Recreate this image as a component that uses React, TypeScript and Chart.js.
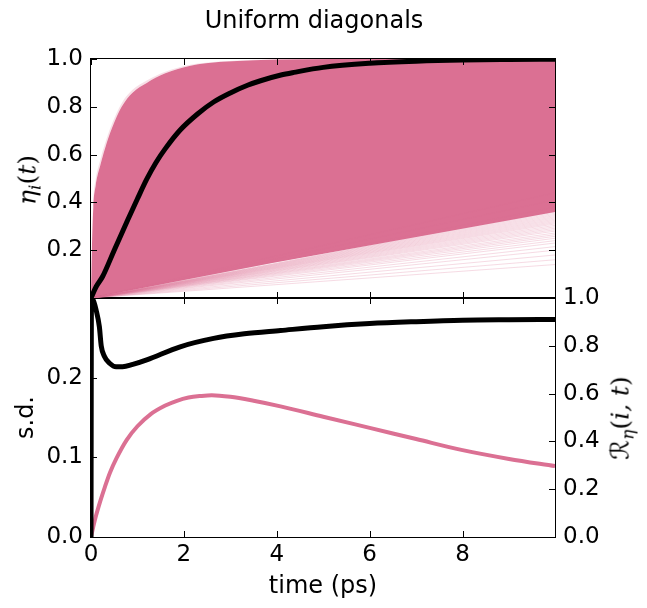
import React, { useEffect, useRef } from 'react';
import { Chart, registerables } from 'chart.js';

Chart.register(...registerables);

// ---- layout constants (pixels) ----
const W = 647;
const H = 608;
const PLOT_LEFT = 91;
const PLOT_RIGHT = 555;
const TOP_Y = 59;
const MID_Y = 298;
const BOT_Y = 537;
const X_MAX = 9.99;

const PINK = 'rgb(219,112,147)';
const PINK_FAINT = 'rgba(219,112,147,0.25)';
const PINK_EDGE = 'rgba(219,112,147,0.22)';

// ---- tick labels ----
const xTicks = [0, 2, 4, 6, 8];
const etaTicks = [0.2, 0.4, 0.6, 0.8, 1.0];
const sdTicks = [0, 0.1, 0.2];
const rTicks = [0, 0.2, 0.4, 0.6, 0.8, 1.0];

// ---- top panel: ensemble of eta_i(t) ----
const envTime = [0, 0.02, 0.05, 0.1, 0.2, 0.3, 0.45, 0.66, 0.9, 1.2, 1.6, 2.14, 2.8, 3.5, 4.5, 6, 9.99];
const envUpper = [0, 0.2, 0.38, 0.47, 0.555, 0.625, 0.71, 0.8, 0.86, 0.9, 0.94, 0.972, 0.988, 0.995, 0.999, 1.0, 1.0];
const envFaintUpper = [0, 0.24, 0.41, 0.495, 0.578, 0.645, 0.728, 0.815, 0.872, 0.91, 0.947, 0.976, 0.99, 0.997, 1.0, 1.0, 1.0];
const lowerTime = [0, 3.87, 9.99];
const envLower = [0, 0.145, 0.36];
// values at t = 9.99 of the sparse slow trajectories below the dense band
const faintEnds = [
  0.14, 0.16, 0.18, 0.2, 0.215, 0.23, 0.24, 0.25, 0.258, 0.265, 0.272, 0.28, 0.286, 0.292, 0.298,
  0.304, 0.31, 0.315, 0.32, 0.325, 0.33, 0.335, 0.34, 0.345, 0.35, 0.355, 0.36, 0.365, 0.38, 0.41, 0.44,
];

const meanTime = [0, 0.11, 0.25, 0.5, 0.79, 1.0, 1.2, 1.4, 1.6, 1.92, 2.3, 2.64, 3.0, 3.37, 3.65, 4.09, 4.37, 5.0, 6.0, 7.0, 8.0, 9.0, 9.99];
const etaMean = [0, 0.047, 0.09, 0.2, 0.326, 0.415, 0.497, 0.567, 0.625, 0.703, 0.771, 0.82, 0.858, 0.89, 0.909, 0.933, 0.944, 0.965, 0.982, 0.991, 0.996, 0.998, 0.999];

// ---- bottom panel ----
const sdTime = [0, 0.05, 0.1, 0.2, 0.3, 0.41, 0.55, 0.77, 1.0, 1.28, 1.6, 1.85, 2.1, 2.36, 2.6, 3.0, 3.5, 4.08, 5.0, 6.0, 7.0, 8.0, 9.0, 9.99];
const sdValues = [0, 0.013, 0.025, 0.045, 0.063, 0.081, 0.099, 0.122, 0.139, 0.154, 0.165, 0.171, 0.175, 0.177, 0.178, 0.176, 0.171, 0.164, 0.151, 0.137, 0.123, 0.109, 0.098, 0.089];

const rTime = [0, 0.01, 0.05, 0.11, 0.18, 0.22, 0.29, 0.4, 0.54, 0.68, 0.9, 1.2, 1.92, 2.64, 3.3, 4.08, 5.0, 6.0, 7.0, 8.0, 9.0, 9.99];
const rValues = [0, 1.0, 0.99, 0.95, 0.88, 0.8, 0.755, 0.727, 0.712, 0.712, 0.722, 0.741, 0.796, 0.831, 0.85, 0.864, 0.88, 0.893, 0.901, 0.907, 0.909, 0.91];

const FONT = { family: 'DejaVu Sans', size: 23 };

const pts = (xs: number[], ys: number[]) => xs.map((x, i) => ({ x, y: ys[i] }));

function makeFrame(leftId: string, leftTicks: number[], rightId: string, rightTicks: number[]) {
  return {
    id: 'frameTicks',
    afterDraw(chart: any) {
      const { ctx, chartArea: a, scales } = chart;
      const L = 6;
      ctx.save();
      ctx.strokeStyle = '#000';
      ctx.lineWidth = 1;
      ctx.beginPath();
      for (const v of xTicks) {
        const p = Math.round(scales.x.getPixelForValue(v)) + 0.5;
        ctx.moveTo(p, a.bottom);
        ctx.lineTo(p, a.bottom - L);
        ctx.moveTo(p, a.top);
        ctx.lineTo(p, a.top + L);
      }
      for (const v of leftTicks) {
        const p = Math.round(scales[leftId].getPixelForValue(v)) + 0.5;
        ctx.moveTo(a.left, p);
        ctx.lineTo(a.left + L, p);
      }
      for (const v of rightTicks) {
        const p = Math.round(scales[rightId].getPixelForValue(v)) + 0.5;
        ctx.moveTo(a.right, p);
        ctx.lineTo(a.right - L, p);
      }
      ctx.stroke();
      ctx.strokeRect(a.left - 0.5, a.top - 0.5, a.right - a.left + 1, a.bottom - a.top + 1);
      ctx.restore();
    },
  };
}

const setTicks = (vals: number[]) => (s: any) => {
  s.ticks = vals.map((v) => ({ value: v }));
};

export default function App() {
  const topRef = useRef<HTMLCanvasElement>(null);
  const botRef = useRef<HTMLCanvasElement>(null);

  useEffect(() => {
    document.body.style.margin = '0';
    Chart.defaults.font.family = 'DejaVu Sans';

    const faintSets = faintEnds.map((e) => ({
      data: [{ x: 0, y: 0 }, { x: X_MAX, y: e }],
      borderColor: PINK_FAINT,
      borderWidth: 1,
      pointRadius: 0,
      fill: false,
      order: 4,
    }));

    const top = new Chart(topRef.current!, {
      type: 'line',
      data: {
        datasets: [
          {
            data: pts(lowerTime, envLower),
            borderWidth: 0,
            borderColor: 'rgba(0,0,0,0)',
            pointRadius: 0,
            fill: false,
            order: 6,
          },
          {
            data: pts(envTime, envUpper),
            borderWidth: 0,
            borderColor: 'rgba(0,0,0,0)',
            backgroundColor: PINK,
            pointRadius: 0,
            fill: 0,
            cubicInterpolationMode: 'monotone',
            order: 5,
          },
          {
            data: pts(envTime, envFaintUpper),
            borderWidth: 0,
            borderColor: 'rgba(0,0,0,0)',
            backgroundColor: PINK_EDGE,
            pointRadius: 0,
            fill: 1,
            cubicInterpolationMode: 'monotone',
            order: 7,
          },
          ...faintSets,
          {
            data: pts(meanTime, etaMean),
            borderColor: '#000',
            borderWidth: 5,
            pointRadius: 0,
            fill: false,
            cubicInterpolationMode: 'monotone',
            borderCapStyle: 'round',
            borderJoinStyle: 'round',
            order: 0,
          },
        ] as any,
      },
      options: {
        animation: false,
        responsive: false,
        devicePixelRatio: 1,
        events: [],
        layout: { padding: { top: TOP_Y, right: W - PLOT_RIGHT, left: 0, bottom: 0 } },
        plugins: { legend: { display: false }, tooltip: { enabled: false } },
        scales: {
          x: {
            type: 'linear',
            min: 0,
            max: X_MAX,
            afterBuildTicks: setTicks(xTicks),
            ticks: { display: false, autoSkip: false },
            grid: { display: false, drawTicks: false },
            border: { display: false },
            afterFit: (s: any) => {
              s.height = H - MID_Y;
            },
          },
          y: {
            type: 'linear',
            position: 'left',
            min: 0,
            max: 1,
            afterBuildTicks: setTicks(etaTicks),
            ticks: {
              font: FONT,
              color: '#000',
              padding: 8,
              autoSkip: false,
              callback: (v: any) => Number(v).toFixed(1),
            },
            grid: { display: false, drawTicks: false },
            border: { display: false },
            afterFit: (s: any) => {
              s.width = PLOT_LEFT;
            },
          },
        },
      } as any,
      plugins: [makeFrame('y', etaTicks, 'y', etaTicks)],
    });

    const bot = new Chart(botRef.current!, {
      type: 'line',
      data: {
        datasets: [
          {
            data: pts(rTime, rValues),
            yAxisID: 'yR',
            borderColor: '#000',
            borderWidth: 5,
            pointRadius: 0,
            fill: false,
            cubicInterpolationMode: 'monotone',
            borderJoinStyle: 'round',
            order: 0,
          },
          {
            data: pts(sdTime, sdValues),
            yAxisID: 'ySd',
            borderColor: PINK,
            borderWidth: 4,
            pointRadius: 0,
            fill: false,
            cubicInterpolationMode: 'monotone',
            order: 1,
          },
        ] as any,
      },
      options: {
        animation: false,
        responsive: false,
        devicePixelRatio: 1,
        events: [],
        layout: { padding: { top: MID_Y, right: 0, left: 0, bottom: 0 } },
        plugins: { legend: { display: false }, tooltip: { enabled: false } },
        scales: {
          x: {
            type: 'linear',
            min: 0,
            max: X_MAX,
            afterBuildTicks: setTicks(xTicks),
            ticks: {
              font: FONT,
              color: '#000',
              padding: 4,
              autoSkip: false,
              maxRotation: 0,
              callback: (v: any) => String(v),
            },
            title: {
              display: true,
              text: 'time (ps)',
              color: '#000',
              font: { family: 'DejaVu Sans', size: 24 },
              padding: 7,
            },
            grid: { display: false, drawTicks: false },
            border: { display: false },
            afterFit: (s: any) => {
              s.height = H - BOT_Y;
            },
          },
          ySd: {
            type: 'linear',
            position: 'left',
            min: 0,
            max: 0.3,
            afterBuildTicks: setTicks(sdTicks),
            ticks: {
              font: FONT,
              color: '#000',
              padding: 8,
              autoSkip: false,
              callback: (v: any) => Number(v).toFixed(1),
            },
            title: {
              display: true,
              text: 's.d.',
              color: '#000',
              font: { family: 'DejaVu Sans', size: 24 },
              padding: 12,
            },
            grid: { display: false, drawTicks: false },
            border: { display: false },
            afterFit: (s: any) => {
              s.width = PLOT_LEFT;
            },
          },
          yR: {
            type: 'linear',
            position: 'right',
            min: 0,
            max: 1,
            afterBuildTicks: setTicks(rTicks),
            ticks: {
              font: FONT,
              color: '#000',
              padding: 8,
              autoSkip: false,
              callback: (v: any) => Number(v).toFixed(1),
            },
            grid: { display: false, drawTicks: false },
            border: { display: false },
            afterFit: (s: any) => {
              s.width = W - PLOT_RIGHT;
            },
          },
        },
      } as any,
      plugins: [makeFrame('ySd', sdTicks, 'yR', rTicks)],
    });

    return () => {
      top.destroy();
      bot.destroy();
    };
  }, []);

  const canvasStyle: React.CSSProperties = { position: 'absolute', left: 0, top: 0, width: W, height: H, display: 'block' };
  const subStyle: React.CSSProperties = { fontSize: '0.68em', verticalAlign: '-0.28em', lineHeight: 0 };

  return (
    <div style={{ position: 'relative', width: W, height: H, background: '#fff', overflow: 'hidden' }}>
      <canvas ref={botRef} width={W} height={H} style={canvasStyle} />
      <canvas ref={topRef} width={W} height={H} style={canvasStyle} />
      <div
        style={{
          position: 'absolute',
          left: 314,
          top: 8,
          transform: 'translateX(-50%)',
          font: '24px "DejaVu Sans"',
          lineHeight: '24px',
          whiteSpace: 'nowrap',
          color: '#000',
        }}
      >
        Uniform diagonals
      </div>
      <div
        style={{
          position: 'absolute',
          left: 27,
          top: 180,
          transform: 'translate(-50%,-50%) rotate(-90deg)',
          font: 'italic 25px "DejaVu Serif"',
          lineHeight: '25px',
          whiteSpace: 'nowrap',
          color: '#000',
        }}
      >
        η<span style={subStyle}>i</span>
        <span style={{ fontStyle: 'normal' }}>(</span>t<span style={{ fontStyle: 'normal' }}>)</span>
      </div>
      <div
        style={{
          position: 'absolute',
          left: 620,
          top: 418,
          transform: 'translate(-50%,-50%) rotate(-90deg)',
          font: 'italic 25px "DejaVu Serif", "DejaVu Sans"',
          lineHeight: '25px',
          whiteSpace: 'nowrap',
          color: '#000',
        }}
      >
        ℛ<span style={subStyle}>η</span>
        <span style={{ fontStyle: 'normal' }}>(</span>i, t<span style={{ fontStyle: 'normal' }}>)</span>
      </div>
    </div>
  );
}
